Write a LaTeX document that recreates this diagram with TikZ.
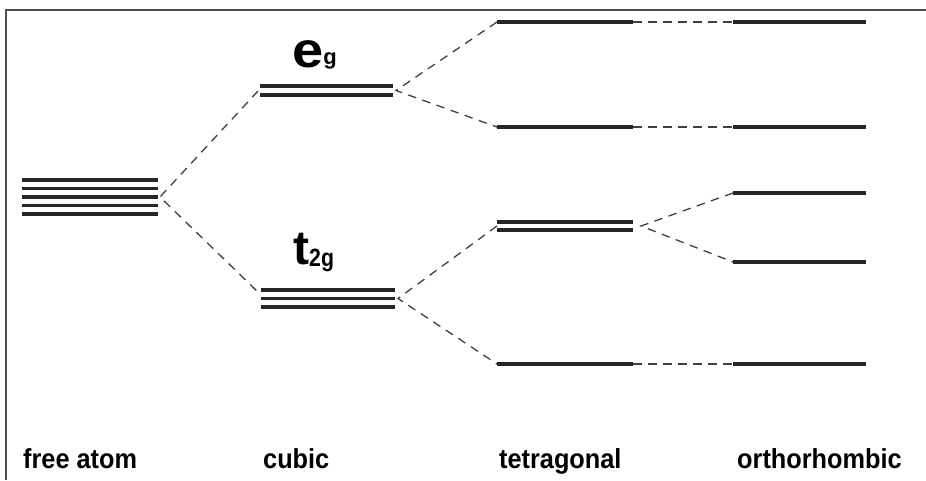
\documentclass[tikz,border=0pt]{standalone}
\usepackage{fontspec}
\setmainfont{Liberation Sans}
\begin{document}
\begin{tikzpicture}[x=1pt,y=-1pt,
  level/.style={line width=3.6pt,color=black!85},
  conn/.style={line width=1.3pt,dash pattern=on 8.5pt off 6.5pt,color=black!75},
  frame/.style={line width=1.5pt,color=black!70},
  caption/.style={font=\bfseries\fontsize{27.5}{27.5}\selectfont,anchor=base west,inner sep=0pt}]
\useasboundingbox (0,0) rectangle (926,480);
% frame
\coordinate (fa) at (6,480);
\coordinate (fb) at (6,10);
\coordinate (fc) at (926,10);
\draw[frame] (fa) -- (fb) -- (fc);
% free atom
\foreach \y [count=\i] in {180,188.5,197,205.5,214}{
  \coordinate (A\i l) at (22,\y);
  \coordinate (A\i r) at (158,\y);
  \draw[level] (A\i l) -- (A\i r);
}
\coordinate (Av) at (160,197);
% cubic eg
\foreach \y [count=\i] in {86,95}{
  \coordinate (E\i l) at (260,\y);
  \coordinate (E\i r) at (393,\y);
  \draw[level] (E\i l) -- (E\i r);
}
\coordinate (Eli) at (258,91);
\coordinate (Ev) at (396,90.5);
% cubic t2g
\foreach \y [count=\i] in {290,298.5,307}{
  \coordinate (T\i l) at (261,\y);
  \coordinate (T\i r) at (395,\y);
  \draw[level] (T\i l) -- (T\i r);
}
\coordinate (Tli) at (259,293);
\coordinate (Tv) at (398,298.5);
% tetragonal
\coordinate (Q1l) at (497,22);  \coordinate (Q1r) at (633,22);
\coordinate (Q2l) at (497,127); \coordinate (Q2r) at (633,127);
\coordinate (Q3l) at (497,222); \coordinate (Q3r) at (633,222);
\coordinate (Q4l) at (497,230); \coordinate (Q4r) at (633,230);
\coordinate (Q5l) at (497,364); \coordinate (Q5r) at (633,364);
\foreach \i in {1,...,5}{\draw[level] (Q\i l) -- (Q\i r);}
\coordinate (Qdl) at (497,226);
\coordinate (Qdv) at (641,226);
% orthorhombic
\coordinate (O1l) at (733,22);  \coordinate (O1r) at (866,22);
\coordinate (O2l) at (733,127); \coordinate (O2r) at (866,127);
\coordinate (O3l) at (733,193); \coordinate (O3r) at (866,193);
\coordinate (O4l) at (733,262); \coordinate (O4r) at (866,262);
\coordinate (O5l) at (733,364); \coordinate (O5r) at (866,364);
\foreach \i in {1,...,5}{\draw[level] (O\i l) -- (O\i r);}
% connectors
\draw[conn] (Eli) -- (Av) -- (Tli);
\draw[conn] (Q1l) -- (Ev) -- (Q2l);
\draw[conn] (Qdl) -- (Tv) -- (Q5l);
\draw[conn] (Q1r) -- (O1l);
\draw[conn] (Q2r) -- (O2l);
\draw[conn] (Q5r) -- (O5l);
\draw[conn] (O3l) -- (Qdv) -- (O4l);
% orbital labels
\node[anchor=base west,inner sep=0pt,font=\bfseries\fontsize{50}{50}\selectfont] (eg) at (292,67) {\scalebox{1.12}[1]{e}\raisebox{3pt}{\fontsize{22}{22}\selectfont g}};
\node[anchor=base west,inner sep=0pt,font=\bfseries\fontsize{48}{48}\selectfont] (t2g) at (293,264) {t\raisebox{-2pt}{\fontsize{25}{25}\selectfont\scalebox{0.85}[1]{2g}}};
% bottom captions
\node[caption] (c1) at (23,468) {\scalebox{0.92}[1]{free atom}};
\node[caption] (c2) at (263,468) {\scalebox{0.92}[1]{cubic}};
\node[caption] (c3) at (499,468) {\scalebox{0.92}[1]{tetragonal}};
\node[caption] (c4) at (737,468) {\scalebox{0.92}[1]{orthorhombic}};
\end{tikzpicture}
\end{document}
